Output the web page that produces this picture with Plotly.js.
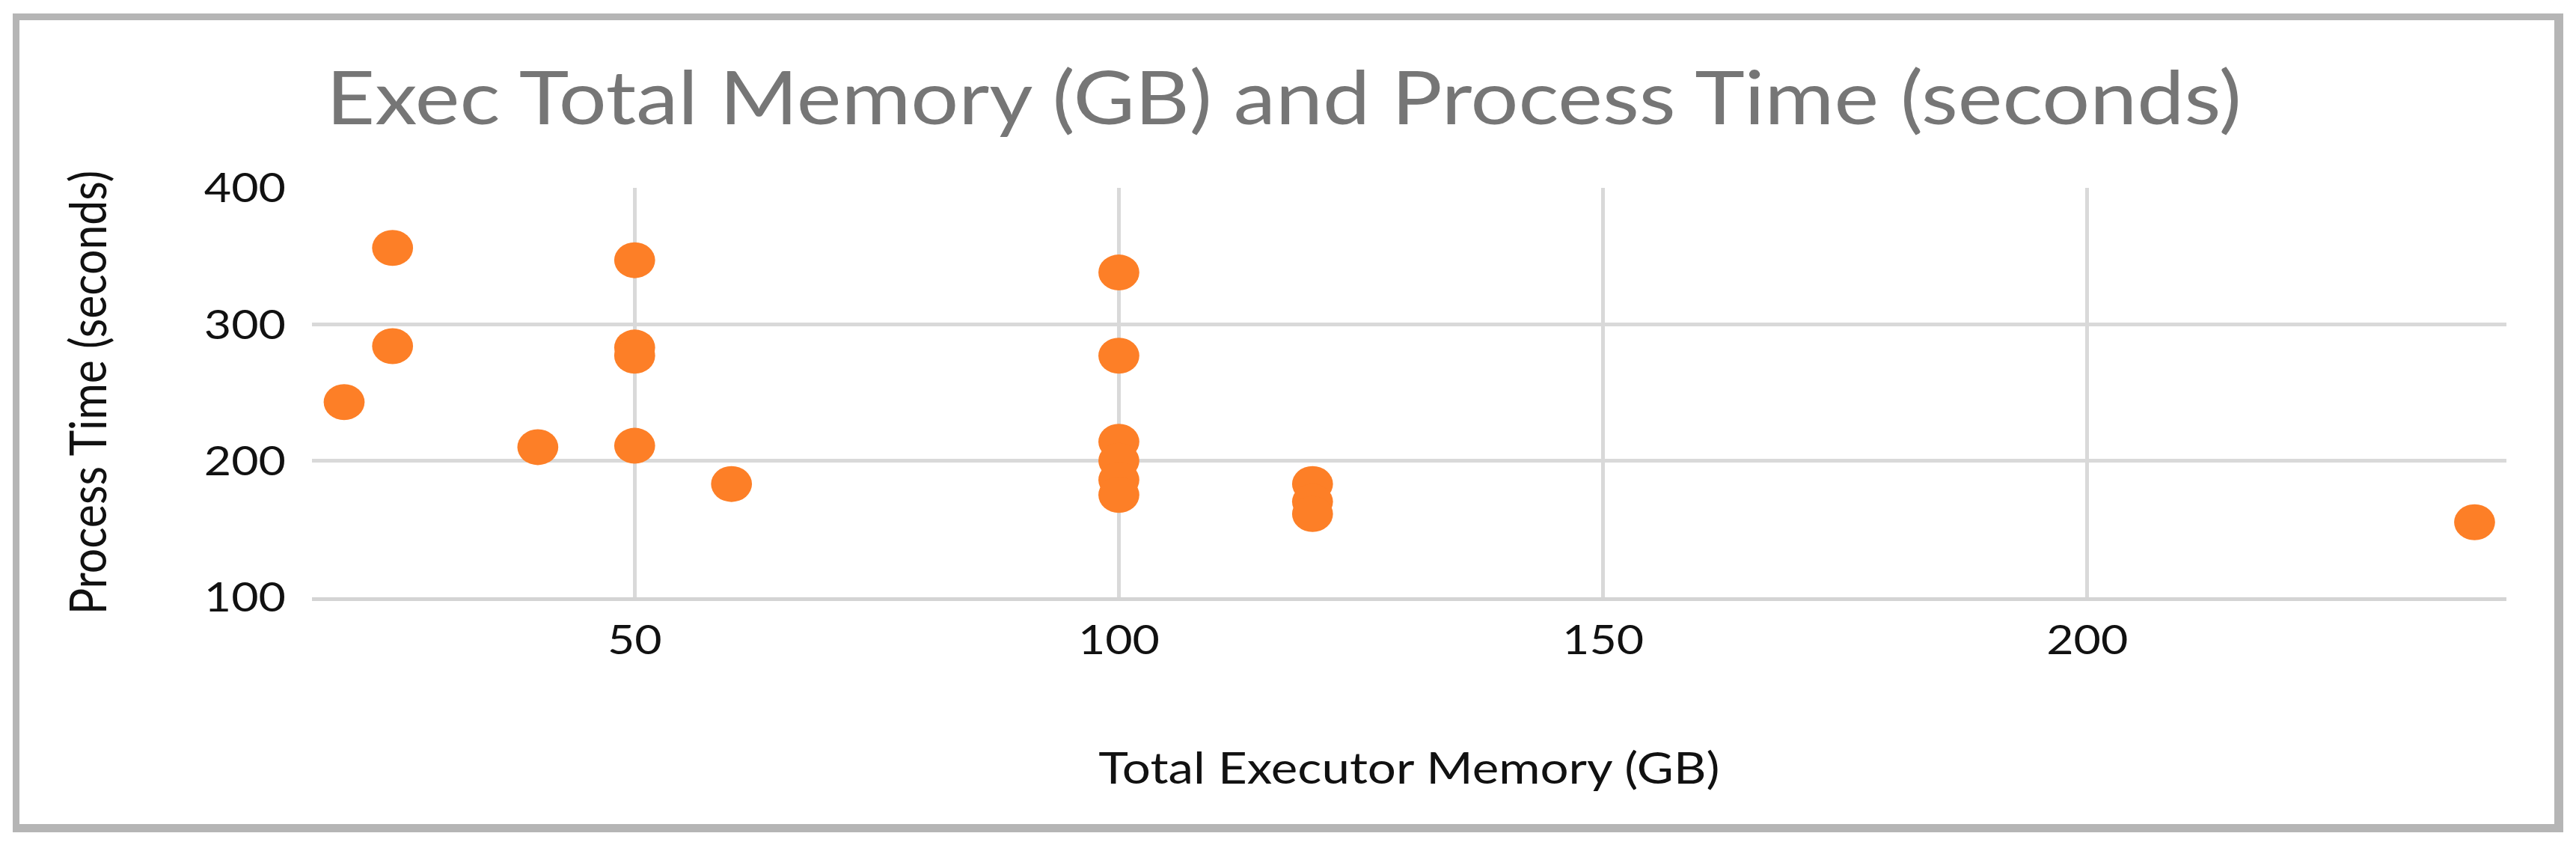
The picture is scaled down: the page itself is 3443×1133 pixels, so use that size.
<!DOCTYPE html>
<html>
<head>
<meta charset="utf-8">
<script src="https://cdn.plot.ly/plotly-3.0.1.min.js"></script>
<style>
  html, body { margin: 0; padding: 0; background: #ffffff; overflow: hidden; }
  #chart { position: absolute; left: 0; top: 0; width: 3020px; height: 1133px;
           transform: scaleX(1.14007); transform-origin: 0 0; }
  #frame { position: absolute; left: 17px; top: 18px; width: 3409px; height: 1094px;
           box-sizing: border-box; border-style: solid; border-color: #b5b5b5;
           border-width: 9px 12px 11px 9px; pointer-events: none; }
</style>
</head>
<body>
<div id="chart"></div>
<div id="frame"></div>
<script>
// ---- data ----
const chartTitle = "Exec Total Memory (GB) and Process Time (seconds)";
const xTitle = "Total Executor Memory (GB)";
const yTitle = "Process Time (seconds)";

const memoryGB = [20, 25, 25, 40, 50, 50, 50, 50, 60, 100, 100, 100, 100, 100, 100, 120, 120, 120, 240];
const processSec = [243, 356, 284, 210, 347, 283, 277, 211, 183, 338, 277, 214, 200, 186, 175, 183, 170, 161, 155];

const xTickVals = [50, 100, 150, 200];
const xTickText = ["50", "100", "150", "200"];
const yTickVals = [100, 200, 300, 400];
const yTickText = ["100", "200", "300", "400"];

// ---- chart ----
const trace = {
  type: "scatter",
  mode: "markers",
  x: memoryGB,
  y: processSec,
  marker: { color: "#FD7F27", size: 48, line: { width: 0 } },
  hoverinfo: "x+y"
};

const tickFont = { family: "Lato, 'Noto Sans', sans-serif", size: 55, color: "#111111" };
const axTitleFont = { family: "Lato, 'Noto Sans', sans-serif", size: 59, color: "#111111" };

const layout = {
  width: 3020,
  height: 1133,
  margin: { l: 366, r: 82, t: 251, b: 335, pad: 0 },
  paper_bgcolor: "#ffffff",
  plot_bgcolor: "#ffffff",
  showlegend: false,
  title: {
    text: chartTitle,
    font: { family: "Lato, 'Noto Sans', sans-serif", size: 99, color: "#767676", weight: 400 },
    x: 0.4984, xanchor: "center", xref: "container",
    y: 1 - 131 / 1133, yanchor: "middle", yref: "container"
  },
  xaxis: {
    range: [16.7, 243.25],
    tickmode: "array", tickvals: xTickVals, ticktext: xTickText,
    showgrid: true, gridcolor: "#d9d9d9", gridwidth: 4,
    zeroline: false,
    showline: true, linecolor: "#d4d4d4", linewidth: 5,
    ticks: "", tickfont: tickFont, ticklabelstandoff: 5,
    automargin: false,
    title: { text: xTitle, font: axTitleFont, standoff: 122 }
  },
  yaxis: {
    range: [100, 400],
    tickmode: "array", tickvals: yTickVals, ticktext: yTickText,
    showgrid: true, gridcolor: "#d9d9d9", gridwidth: 4.5,
    zeroline: false, showline: false,
    ticks: "", tickfont: tickFont, ticklabelstandoff: 30,
    automargin: false,
    title: { text: yTitle, font: axTitleFont, standoff: 95 }
  }
};

Plotly.newPlot("chart", [trace], layout, { displayModeBar: false, staticPlot: true });
</script>
</body>
</html>
